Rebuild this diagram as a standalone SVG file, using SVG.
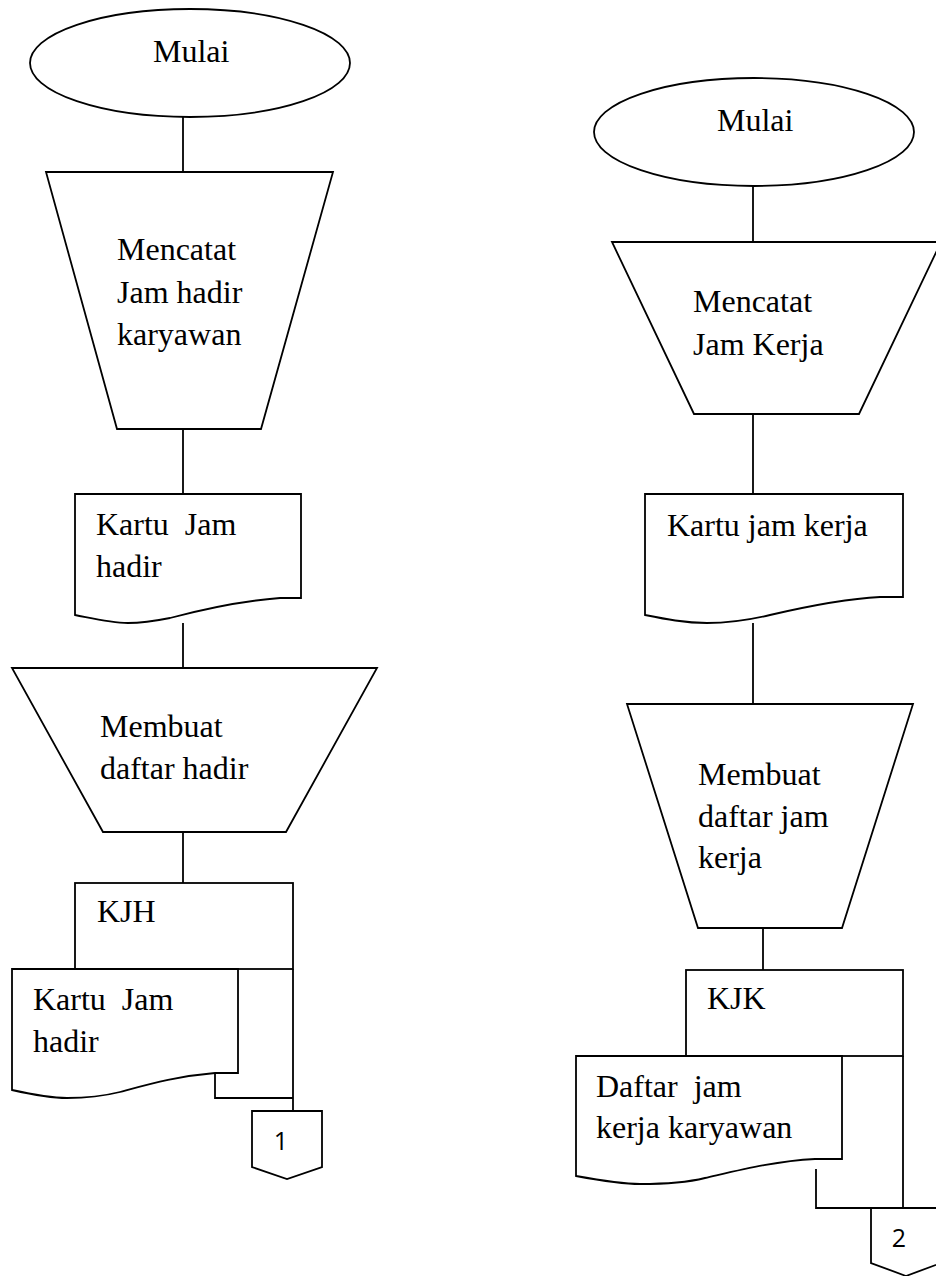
<svg xmlns="http://www.w3.org/2000/svg" width="936" height="1276" viewBox="0 0 936 1276">
  <style>
    .shape { fill: #fff; stroke: #000; stroke-width: 1.8; stroke-linejoin: miter; }
    .line { fill: none; stroke: #000; stroke-width: 1.8; }
    .lbl { font-family: "Liberation Serif", "Times New Roman", serif; font-size: 32px; fill: #000; white-space: pre; }
    .num { font-family: "Open Sans", "Liberation Sans", sans-serif; font-size: 25px; fill: #000; text-anchor: middle; }
  </style>
  <rect width="936" height="1276" fill="#fff"/>

  <!-- connectors -->
  <g id="connectors">
    <!-- left flow -->
    <line class="line" x1="183" y1="117" x2="183" y2="172"/>
    <line class="line" x1="183" y1="429" x2="183" y2="494"/>
    <line class="line" x1="183" y1="623" x2="183" y2="668"/>
    <line class="line" x1="183" y1="832" x2="183" y2="883"/>
    <line class="line" x1="293" y1="969" x2="293" y2="1111"/>
    <polyline class="line" points="215,1073 215,1098 293,1098"/>
    <!-- right flow -->
    <line class="line" x1="753" y1="186" x2="753" y2="242"/>
    <line class="line" x1="753" y1="414" x2="753" y2="494"/>
    <line class="line" x1="753" y1="623" x2="753" y2="704"/>
    <line class="line" x1="763" y1="928" x2="763" y2="970"/>
    <line class="line" x1="903" y1="1056" x2="903" y2="1208"/>
    <polyline class="line" points="816,1169 816,1208 936,1208"/>
  </g>

  <!-- left column -->
  <g id="start-1">
    <ellipse class="shape" cx="190" cy="63" rx="160" ry="54"/>
    <text class="lbl" x="153" y="62">Mulai</text>
  </g>

  <g id="manual-1">
    <polygon class="shape" points="46,172 333,172 261,429 117,429"/>
    <text class="lbl" x="117" y="260">Mencatat</text>
    <text class="lbl" x="117" y="303">Jam hadir</text>
    <text class="lbl" x="117" y="345">karyawan</text>
  </g>

  <g id="doc-1">
    <path class="shape" d="M75,494 H301 V598 H280 C240,601 200,610 170,618 C150,622 138,623 128,623 C110,623 95,619 75,615 Z"/>
    <text class="lbl" x="96" y="535">Kartu  Jam</text>
    <text class="lbl" x="96" y="577">hadir</text>
  </g>

  <g id="manual-2">
    <polygon class="shape" points="12,668 377,668 286,832 103,832"/>
    <text class="lbl" x="100" y="737">Membuat</text>
    <text class="lbl" x="100" y="779">daftar hadir</text>
  </g>

  <g id="file-kjh">
    <rect class="shape" x="75" y="883" width="218" height="86"/>
    <text class="lbl" x="97" y="922">KJH</text>
  </g>

  <g id="doc-2">
    <path class="shape" d="M12,969 H238 V1073 H215 C178,1076 150,1084 120,1092 C100,1097 80,1098 67,1098 C50,1098 30,1094 12,1090 Z"/>
    <text class="lbl" x="33" y="1010">Kartu  Jam</text>
    <text class="lbl" x="33" y="1052">hadir</text>
  </g>

  <g id="offpage-1">
    <polygon class="shape" points="252,1111 322,1111 322,1167 287,1179 252,1167"/>
    <text class="num" x="281" y="1150">1</text>
  </g>

  <!-- right column -->
  <g id="start-2">
    <ellipse class="shape" cx="754" cy="132" rx="160" ry="54"/>
    <text class="lbl" x="717" y="131">Mulai</text>
  </g>

  <g id="manual-3">
    <polygon class="shape" points="612,242 941,242 859,414 694,414"/>
    <text class="lbl" x="693" y="312">Mencatat</text>
    <text class="lbl" x="693" y="355">Jam Kerja</text>
  </g>

  <g id="doc-3">
    <path class="shape" d="M645,494 H903 V597 H880 C840,599 800,608 770,615 C745,621 725,623 707,623 C685,623 665,619 645,615 Z"/>
    <text class="lbl" x="667" y="536">Kartu jam kerja</text>
  </g>

  <g id="manual-4">
    <polygon class="shape" points="627,704 913,704 842,928 698,928"/>
    <text class="lbl" x="698" y="785">Membuat</text>
    <text class="lbl" x="698" y="827">daftar jam</text>
    <text class="lbl" x="698" y="868">kerja</text>
  </g>

  <g id="file-kjk">
    <rect class="shape" x="686" y="970" width="217" height="86"/>
    <text class="lbl" x="707" y="1009">KJK</text>
  </g>

  <g id="doc-4">
    <path class="shape" d="M576,1056 H842 V1159 H815 C775,1161 740,1170 705,1178 C685,1183 660,1184 640,1184 C620,1184 598,1180 576,1176 Z"/>
    <text class="lbl" x="596" y="1097">Daftar  jam</text>
    <text class="lbl" x="596" y="1138">kerja karyawan</text>
  </g>

  <g id="offpage-2">
    <polygon class="shape" points="871,1208 941,1208 941,1263 906,1276 871,1263"/>
    <text class="num" x="899" y="1247">2</text>
  </g>
</svg>
